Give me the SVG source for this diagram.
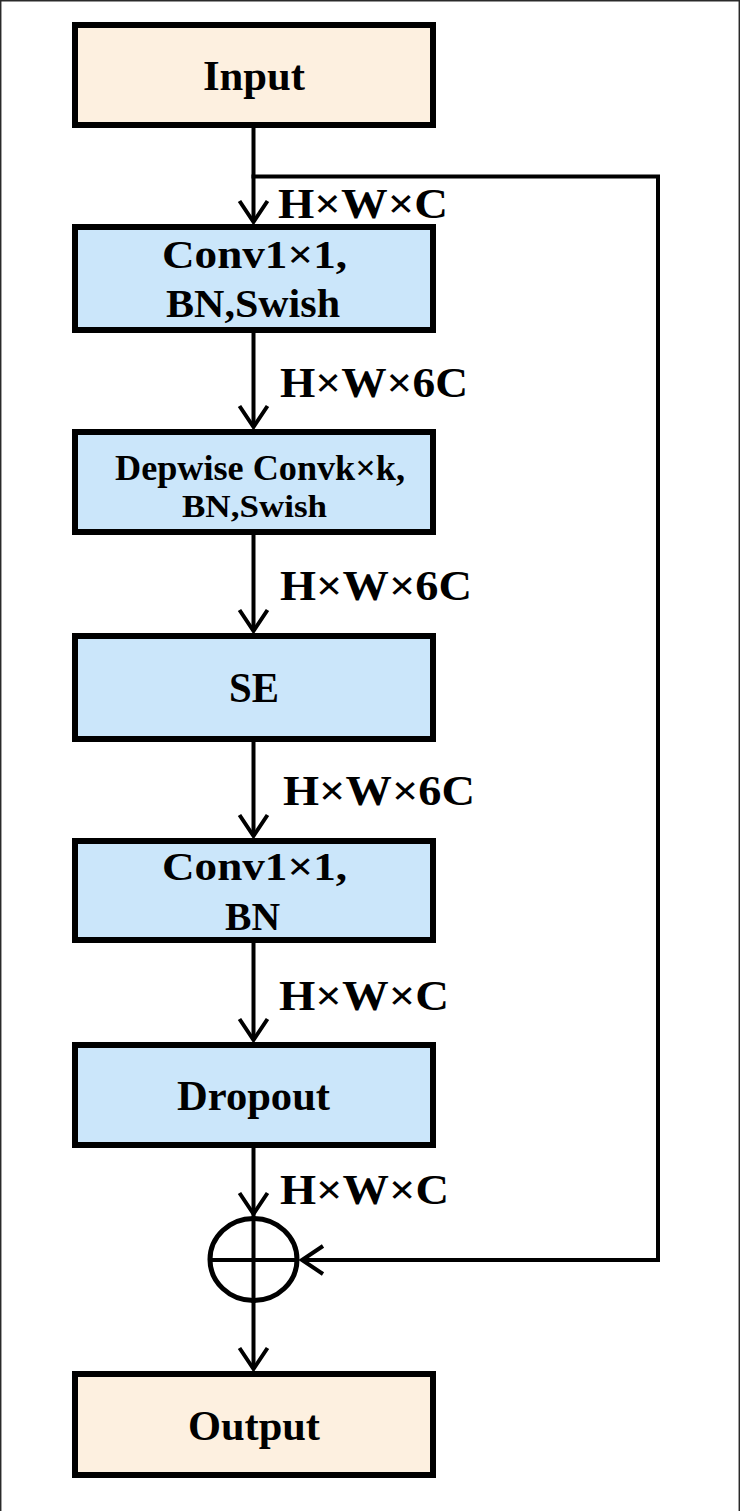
<svg xmlns="http://www.w3.org/2000/svg" width="740" height="1511" viewBox="0 0 740 1511">
<style>
  .box { stroke: #000; stroke-width: 6; }
  .io { fill: #FDF0E0; }
  .op { fill: #CBE6FA; }
  .t { font-family: "Liberation Serif", "Times New Roman", serif; font-weight: bold; fill: #000; }
  .ln { fill: none; stroke: #000; stroke-width: 4; }
  .arr { fill: none; stroke: #000; stroke-width: 4; marker-end: url(#v); }
</style>
<defs>
  <marker id="v" markerUnits="userSpaceOnUse" orient="auto" refX="0" refY="0" markerWidth="30" markerHeight="30" overflow="visible">
    <path d="M-21,-14 L0,0 L-21,14" fill="none" stroke="#000" stroke-width="4"/>
  </marker>
</defs>
<rect x="0" y="0" width="740" height="1511" fill="#FFFFFF"/>
<path d="M0.7,1511 V0.7 H739.3 V1511" fill="none" stroke="#2a2a2a" stroke-width="1.5"/>

<g id="connectors">
  <path class="arr" d="M253.5,128 V222"/>
  <path class="arr" d="M253.5,333 V427"/>
  <path class="arr" d="M253.5,535 V631"/>
  <path class="arr" d="M253.5,742 V836"/>
  <path class="arr" d="M253.5,943 V1040"/>
  <path class="arr" d="M253.5,1148 V1214"/>
  <path class="arr" d="M253.5,1300 V1369"/>
  <path class="ln" d="M253.5,1214 V1303" />
  <path class="arr" d="M251.5,176.5 H658 V1260 H302"/>
  <g id="label1"><text class="t" x="278" y="218" font-size="43" textLength="170" lengthAdjust="spacingAndGlyphs">H×W×C</text></g>
  <g id="label2"><text class="t" x="280" y="397" font-size="43" textLength="188" lengthAdjust="spacingAndGlyphs">H×W×6C</text></g>
  <g id="label3"><text class="t" x="280" y="600" font-size="43" textLength="192" lengthAdjust="spacingAndGlyphs">H×W×6C</text></g>
  <g id="label4"><text class="t" x="283" y="805" font-size="43" textLength="192" lengthAdjust="spacingAndGlyphs">H×W×6C</text></g>
  <g id="label5"><text class="t" x="279" y="1010" font-size="43" textLength="170" lengthAdjust="spacingAndGlyphs">H×W×C</text></g>
  <g id="label6"><text class="t" x="280" y="1204" font-size="43" textLength="169" lengthAdjust="spacingAndGlyphs">H×W×C</text></g>
</g>

<g id="input">
  <rect class="box io" x="75" y="25" width="358" height="100"/>
  <text class="t" x="203" y="90" font-size="42" textLength="102" lengthAdjust="spacingAndGlyphs">Input</text>
</g>

<g id="conv1">
  <rect class="box op" x="75" y="227" width="358" height="103"/>
  <text class="t" x="162" y="268" font-size="40" textLength="185" lengthAdjust="spacingAndGlyphs">Conv1×1,</text>
  <text class="t" x="166" y="317" font-size="41" textLength="174" lengthAdjust="spacingAndGlyphs">BN,Swish</text>
</g>

<g id="depwise">
  <rect class="box op" x="75" y="432" width="358" height="100"/>
  <text class="t" x="115" y="480" font-size="35" textLength="290" lengthAdjust="spacingAndGlyphs">Depwise Convk×k,</text>
  <text class="t" x="182" y="517" font-size="31" textLength="145" lengthAdjust="spacingAndGlyphs">BN,Swish</text>
</g>

<g id="se">
  <rect class="box op" x="75" y="636" width="358" height="103"/>
  <text class="t" x="229" y="702" font-size="43" textLength="50" lengthAdjust="spacingAndGlyphs">SE</text>
</g>

<g id="conv2">
  <rect class="box op" x="75" y="841" width="358" height="99"/>
  <text class="t" x="162" y="880" font-size="40" textLength="185" lengthAdjust="spacingAndGlyphs">Conv1×1,</text>
  <text class="t" x="225" y="930" font-size="41" textLength="55" lengthAdjust="spacingAndGlyphs">BN</text>
</g>

<g id="dropout">
  <rect class="box op" x="75" y="1045" width="358" height="100"/>
  <text class="t" x="177" y="1110" font-size="42" textLength="153" lengthAdjust="spacingAndGlyphs">Dropout</text>
</g>

<g id="add">
  <ellipse cx="253.5" cy="1259.5" rx="43.5" ry="41" fill="none" stroke="#000" stroke-width="5"/>
  <path d="M210,1260 H297" fill="none" stroke="#000" stroke-width="4"/>
</g>

<g id="output">
  <rect class="box io" x="75" y="1374" width="358" height="101"/>
  <text class="t" x="188" y="1440" font-size="42" textLength="132" lengthAdjust="spacingAndGlyphs">Output</text>
</g>
</svg>
